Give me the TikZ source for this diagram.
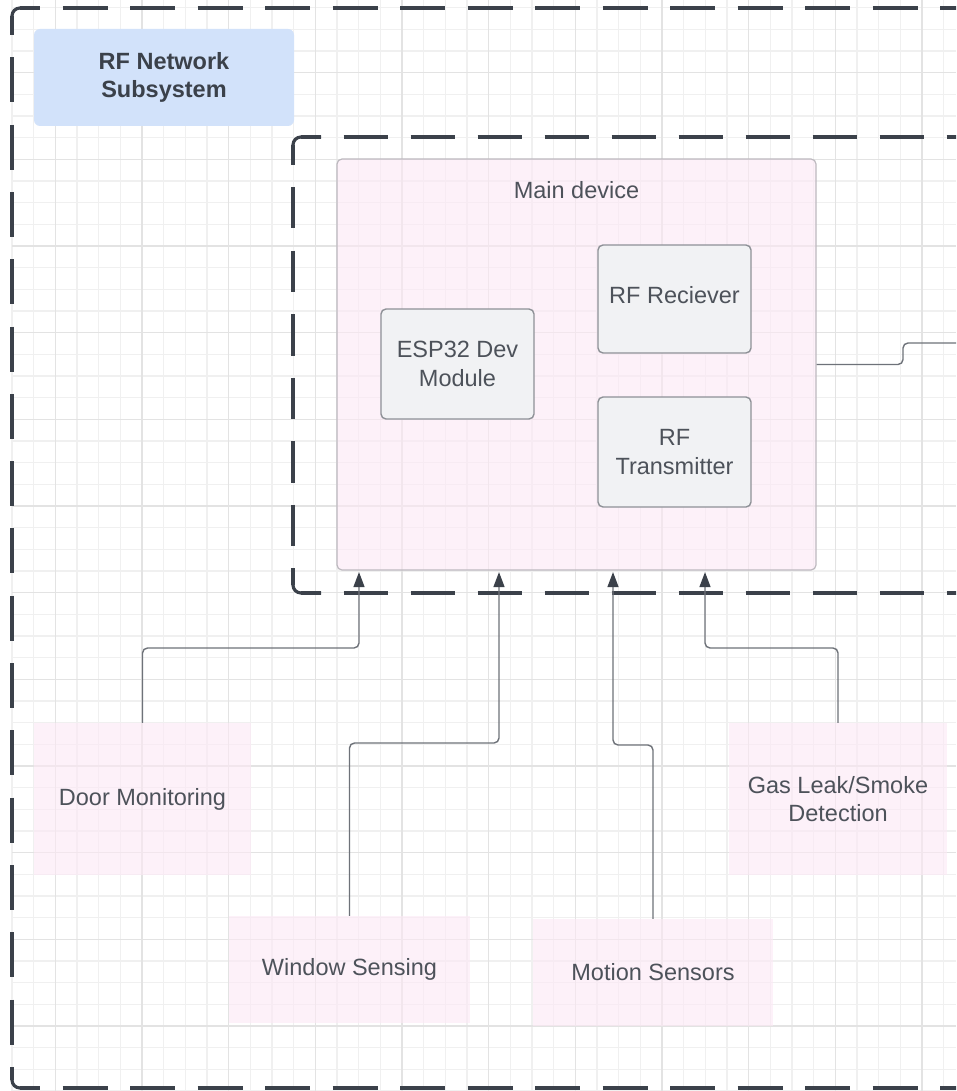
\documentclass[tikz,border=0pt]{standalone}
\usepackage{fontspec}
\setmainfont{Liberation Sans}
\usetikzlibrary{arrows.meta}

\definecolor{gridminor}{HTML}{F0F0F0}
\definecolor{gridmajor}{HTML}{E3E3E3}
\definecolor{dashline}{HTML}{3B414A}
\definecolor{titlefill}{HTML}{D2E2FA}
\definecolor{pinkfill}{HTML}{FCE8F5}
\definecolor{chipfill}{HTML}{F1F2F4}
\definecolor{chipedge}{HTML}{8E9197}
\definecolor{mainedge}{HTML}{BDB9BF}
\definecolor{textdark}{HTML}{3B414A}
\definecolor{textgray}{HTML}{4D525A}
\definecolor{wire}{HTML}{6E7279}

\tikzset{
  minorline/.style={draw=gridminor, line width=1.3pt},
  majorline/.style={draw=gridmajor, line width=1.5pt},
  boundary/.style={draw=dashline, line width=3.2pt},
  lbltext/.style={font=\fontsize{23.5}{28.5}\selectfont, text=textgray, align=center},
  titlebox/.style={fill=titlefill, rounded corners=6pt, inner sep=0pt,
    font=\bfseries\fontsize{23.5}{28.5}\selectfont, text=textdark, align=center},
  devicebox/.style={draw=mainedge, line width=1.2pt, fill=pinkfill, fill opacity=0.6,
    text opacity=1, rounded corners=5pt, inner sep=0pt},
  chip/.style={draw=chipedge, line width=1.4pt, fill=chipfill, rounded corners=5pt,
    inner sep=0pt, lbltext},
  sensor/.style={fill=pinkfill, fill opacity=0.6, text opacity=1, inner sep=0pt, lbltext},
  wireline/.style={draw=wire, line width=1.4pt, rounded corners=5pt},
  feed/.style={wireline, shorten >=1.5pt,
    -{Triangle[length=15pt,width=11pt,color=dashline]}},
}

\begin{document}
\begin{tikzpicture}[x=1pt, y=-1pt]
  \useasboundingbox (0,0) rectangle (956,1091);
  \clip (0,0) rectangle (956,1091);
  \fill[white] (0,0) rectangle (956,1091);

  % background grid
  \foreach \i in {0,...,44}
    \draw[minorline] ({12+21.667*\i},0) -- ({12+21.667*\i},1091);
  \foreach \j in {0,...,50}
    \draw[minorline] (12,{7.6+21.667*\j}) -- (956,{7.6+21.667*\j});
  \foreach \i in {0,...,10}
    \draw[majorline] ({55.33+86.667*\i},0) -- ({55.33+86.667*\i},1091);
  \foreach \j in {0,...,12}
    \draw[majorline] (12,{72.6+86.667*\j}) -- (956,{72.6+86.667*\j});

  % outer subsystem boundary
  \draw[boundary, dash pattern=on 45pt off 22.5pt, dash phase=25pt] (20,8) -- (960,8);
  \draw[boundary, dash pattern=on 45pt off 22.5pt, dash phase=25pt] (20,1088) -- (960,1088);
  \draw[boundary, dash pattern=on 45pt off 22.3pt, dash phase=26pt] (12,16) -- (12,1080);
  \draw[boundary, rounded corners=8pt] (12,34) -- (12,8) -- (39,8);
  \draw[boundary, rounded corners=8pt] (12,1067) -- (12,1088) -- (39,1088);

  % inner device boundary
  \draw[boundary, dash pattern=on 44.5pt off 22.5pt, dash phase=24.5pt] (301,137) -- (960,137);
  \draw[boundary, dash pattern=on 44.5pt off 22.5pt, dash phase=24.5pt] (301,593) -- (960,593);
  \draw[boundary, dash pattern=on 41.5pt off 22pt, dash phase=21.5pt] (293,145) -- (293,585);
  \draw[boundary, rounded corners=8pt] (293,165) -- (293,137) -- (321,137);
  \draw[boundary, rounded corners=8pt] (293,568) -- (293,593) -- (321,593);

  % title
  \node[titlebox, minimum width=260pt, minimum height=97pt] (title) at (164,77.5)
    {RF Network\\Subsystem};

  % main device and its modules
  \node[devicebox, minimum width=479pt, minimum height=411pt] (main) at (576.5,364.5) {};
  \node[lbltext] (maintitle) at (576.5,190) {Main device};
  \node[chip, minimum width=153pt, minimum height=110pt] (esp) at (457.5,364) {ESP32 Dev\\Module};
  \node[chip, minimum width=153pt, minimum height=108pt, text depth=8pt] (rx) at (674.5,299) {RF Reciever};
  \node[chip, minimum width=153pt, minimum height=110pt] (tx) at (674.5,452) {RF\\Transmitter};

  % sensors
  \node[sensor, minimum width=217pt, minimum height=152pt] (door) at (142.5,799) {Door Monitoring};
  \node[sensor, minimum width=241pt, minimum height=107pt] (window) at (349.5,969.5) {Window Sensing};
  \node[sensor, minimum width=240pt, minimum height=107pt] (motion) at (653,972.5) {Motion Sensors};
  \node[sensor, minimum width=218pt, minimum height=152pt] (gas) at (838,799) {Gas Leak/Smoke\\Detection};

  % sensor feeds into the main device
  \coordinate (doorbend) at (359,648);
  \coordinate (winbend) at (499,743);
  \coordinate (motbend) at (613,745);
  \coordinate (gasbend) at (705,648);
  \draw[feed] (door.north) |- (doorbend) -- (doorbend |- main.south);
  \draw[feed] (window.north) |- (winbend) -- (winbend |- main.south);
  \draw[feed] (motion.north) |- (motbend) -- (motbend |- main.south);
  \draw[feed] (gas.north) |- (gasbend) -- (gasbend |- main.south);

  % outgoing link on the right
  \coordinate (linkstep) at (903,343);
  \coordinate (linkend) at (960,343);
  \draw[wireline] (main.east) -| (linkstep) -- (linkend);
\end{tikzpicture}
\end{document}
